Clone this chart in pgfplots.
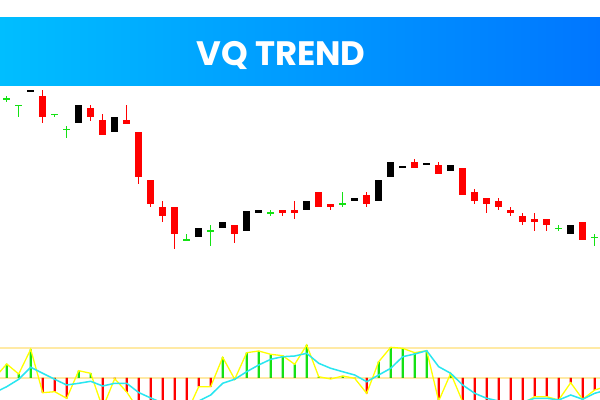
\documentclass[border=0pt]{standalone}
\usepackage{pgfplots}
\pgfplotsset{compat=1.18}
\usepackage{pgfplotstable}
\usepackage{fontspec}
\newfontfamily\bannerfont{Poppins}
\definecolor{cgreen}{RGB}{20,225,20}
\definecolor{cred}{RGB}{255,0,0}
\definecolor{cyanl}{RGB}{40,230,240}
\definecolor{yel}{RGB}{255,255,0}
\definecolor{pale}{RGB}{255,234,165}
\definecolor{bannerL}{RGB}{0,190,255}
\definecolor{bannerR}{RGB}{0,118,255}

% candles: i open high low close (price units)
\pgfplotstableread{
i o h l c
4 304 310 276.7 282.7
8 292 295 279.3 282.7
9 280 286 264.7 264.7
11 280 295 276.3 276.3
12 268 268 216.3 222.7
13 220 220 192.7 195.7
14 193 199 177.7 184
15 193 193 150.7 165.7
20 175 175 156.7 166
24 190 190 183.7 187
25 190 199 180.7 186.7
27 208 208 192.7 192.7
28 196 196 189.7 192.7
31 205 208 192.7 196
35 237.7 241 232 232
37 235 238 225.7 225.7
39 232 232 204.7 204.7
40 208 211 196 199
41 202 202 186.7 196
42 199 202 190 192.7
43 190.3 193 183.7 187
44 184 187 174.7 178
45 181 187 168.7 178
46 181 181 168.7 175
49 178 178 160 160
}\redc
\pgfplotstableread{
i o h l c
3 307.7 309.7 307.7 309.7
7 277.3 294.7 277.3 294.7
10 268.3 282.7 268.3 282.7
17 163.3 171.7 163.3 171.7
19 172.3 177.7 172.3 177.7
21 169.3 189.3 169.3 189.3
22 187.3 189.7 187.3 189.7
26 190.3 198.7 190.3 198.7
30 199.3 201.7 199.3 201.7
32 199.3 219.7 199.3 219.7
33 223.3 237.7 223.3 237.7
34 232.7 234.3 232.7 234.3
36 235.3 237.3 235.3 237.3
38 229.3 235 229.3 235
48 166.3 174.7 166.3 174.7
}\blackc
\pgfplotstableread{
i o h l c
1 301 304 298 301
2 294.7 294.7 283 294.7
5 285.7 285.7 282.7 285.7
6 270.7 274 261.7 270.7
16 160 166 160 160
18 169 175 154 169
23 187.3 190 183.7 187.3
29 196 208 192.7 196
47 171.7 175 168.7 171.7
50 162.7 165.7 153.7 162.7
}\greenc
% indicator: i value signal
\pgfplotstableread{
i v s
0 0.2 -14.6
1 14 -8.7
2 4 -1.3
3 28.7 10.7
4 -14.7 4.7
5 -13.7 -1.3
6 -20.3 -7
7 7.3 -5.3
8 4.7 -3.3
9 -30 -8
10 -0.7 -5.3
11 -14 -5.3
12 -32 -14.5
13 -34 -20
14 -34 -25
15 -34 -28
16 -35 -27
17 -8.7 -23
18 -8.7 -17
19 20.7 -5.3
20 -1.3 -1.3
21 25.3 6.3
22 27 13
23 23.7 18.7
24 22.3 21.3
25 13.7 22
26 33 24.7
27 1.3 14.7
28 -1 9.7
29 2 6.3
30 -0.3 3
31 -15.3 -3.7
32 16.3 3
33 30.7 9.7
34 29.7 21.3
35 25.3 24
36 27.3 27.3
37 -23 11.3
38 4.7 4.7
39 -24 -7
40 -32 -15.3
41 -34 -20.3
42 -34 -23
43 -34 -24
44 -25.3 -24
45 -18.7 -20.3
46 -18.7 -20.3
47 -22 -22
48 -4.7 -17
49 -21.3 -21.3
50 -12 -15.3
51 -8.4 -12
}\ind

\pgfplotsset{
  base/.style={
    at={(0,0)}, anchor=south west,
    scale only axis, width=600bp, height=400bp,
    xmin=0.4417, xmax=50.4417,
    axis line style={draw=none},
    xtick=\empty, ytick=\empty,
  },
  wick/.style={draw=none, mark=none,
    error bars/.cd, y dir=both, y explicit, error mark=none,
    error bar style={draw=#1, line width=1.2bp}},
  body/.style={draw=none, mark=none,
    error bars/.cd, y dir=both, y explicit, error mark=none,
    error bar style={draw=#1, line width=7bp}},
}

\begin{document}
\begin{tikzpicture}
\fill[white] (0,0) rectangle (600bp,400bp);
\begin{axis}[base, ymin=0, ymax=400]
\shade[left color=bannerL, right color=bannerR] (rel axis cs:0,0.785) rectangle (rel axis cs:1,0.955);
\node[text=white, font=\bannerfont\bfseries\fontsize{34}{34}\selectfont] at (rel axis cs:0.4683,0.8625) {VQ TREND};
% wicks
\addplot[wick=cred] table[x=i, y expr={(\thisrow{h}+\thisrow{l})/2}, y error expr={(\thisrow{h}-\thisrow{l})/2}] {\redc};
\addplot[wick=black] table[x=i, y expr={(\thisrow{h}+\thisrow{l})/2}, y error expr={(\thisrow{h}-\thisrow{l})/2}] {\blackc};
\addplot[wick=cgreen] table[x=i, y expr={(\thisrow{h}+\thisrow{l})/2}, y error expr={(\thisrow{h}-\thisrow{l})/2}] {\greenc};
% bodies
\addplot[body=cred] table[x=i, y expr={(\thisrow{o}+\thisrow{c})/2}, y error expr={max(abs(\thisrow{o}-\thisrow{c})/2,0.65)}] {\redc};
\addplot[body=black] table[x=i, y expr={(\thisrow{o}+\thisrow{c})/2}, y error expr={max(abs(\thisrow{o}-\thisrow{c})/2,0.65)}] {\blackc};
\addplot[body=cgreen] table[x=i, y expr={(\thisrow{o}+\thisrow{c})/2}, y error expr={max(abs(\thisrow{o}-\thisrow{c})/2,0.65)}] {\greenc};
\end{axis}
\begin{axis}[base, ymin=-22, ymax=378]
\addplot[pale, line width=2bp] coordinates {(0.4417,29.7) (50.4417,29.7)};
\addplot[pale, line width=2bp] coordinates {(0.4417,0) (50.4417,0)};
\addplot[ybar, bar width=2.3bp, bar shift=0pt, fill=cgreen, draw=none] table[x=i, y expr={max(\thisrow{v},0)}] {\ind};
\addplot[ybar, bar width=2.3bp, bar shift=0pt, fill=cred, draw=none] table[x=i, y expr={min(\thisrow{v},0)}] {\ind};
\addplot[yel, line width=1.3bp] table[x=i, y=v] {\ind};
\addplot[cyanl, line width=1.5bp] table[x=i, y=s] {\ind};
\end{axis}
\end{tikzpicture}
\end{document}
